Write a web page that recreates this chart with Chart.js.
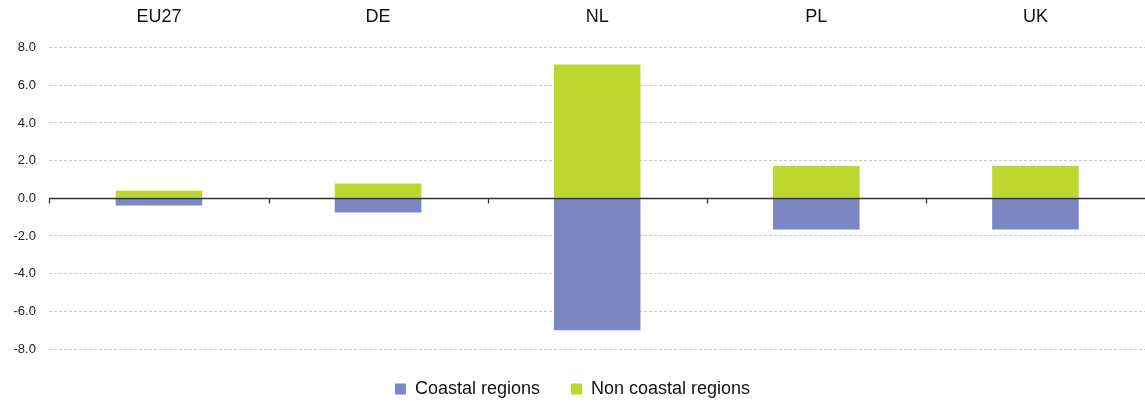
<!DOCTYPE html>
<html>
<head>
<meta charset="utf-8">
<script src="https://cdn.jsdelivr.net/npm/chart.js@4.4.1/dist/chart.umd.min.js"></script>
<style>
  html, body { margin: 0; padding: 0; background: #fff; }
  #wrap { width: 1145px; height: 403px; }
</style>
</head>
<body>
<div id="wrap"><canvas id="chart"></canvas></div>
<script>
const categories = ['EU27', 'DE', 'NL', 'PL', 'UK'];
const coastal = [-0.38, -0.75, -7.0, -1.65, -1.65];
const nonCoastal = [0.4, 0.78, 7.1, 1.72, 1.72];
const yTicks = [-8, -6, -4, -2, 0, 2, 4, 6, 8];

// zero line with small tick marks at category boundaries
const zeroAxis = {
    id: 'zeroAxis',
    afterDatasetsDraw(chart) {
        const { ctx, chartArea, scales } = chart;
        const y0 = Math.round(scales.y.getPixelForValue(0)) + 0.5;
        const step = (chartArea.right - chartArea.left) / categories.length;
        ctx.save();
        ctx.strokeStyle = '#333';
        ctx.lineWidth = 1.3;
        ctx.beginPath();
        ctx.moveTo(chartArea.left, y0);
        ctx.lineTo(chartArea.right, y0);
        for (let i = 0; i < categories.length; i++) {
            const x = Math.round(chartArea.left + i * step) + 0.5;
            ctx.moveTo(x, y0);
            ctx.lineTo(x, y0 + 5);
        }
        ctx.stroke();
        ctx.restore();
    }
};

new Chart(document.getElementById('chart'), {
    type: 'bar',
    data: {
        labels: categories,
        datasets: [
            {
                label: 'Coastal regions',
                data: coastal,
                backgroundColor: '#7b86c2',
                borderWidth: 0,
                categoryPercentage: 1,
                barPercentage: 0.395
            },
            {
                label: 'Non coastal regions',
                data: nonCoastal,
                backgroundColor: '#bed730',
                borderWidth: 0,
                categoryPercentage: 1,
                barPercentage: 0.395
            }
        ]
    },
    options: {
        responsive: true,
        maintainAspectRatio: false,
        animation: false,
        layout: { padding: { top: -6, right: 0, left: 0, bottom: -5 } },
        plugins: {
            legend: {
                position: 'bottom',
                labels: {
                    boxWidth: 11,
                    boxHeight: 11,
                    padding: 31,
                    color: '#111',
                    font: { family: 'Liberation Sans, Arial', size: 18 }
                }
            },
            tooltip: { enabled: false }
        },
        scales: {
            x: {
                position: 'top',
                stacked: true,
                grid: { display: false },
                border: { display: false },
                ticks: {
                    color: '#111',
                    padding: 12,
                    font: { family: 'Liberation Sans, Arial', size: 18 }
                }
            },
            y: {
                stacked: true,
                min: -8,
                max: 8,
                afterBuildTicks: (axis) => {
                    axis.ticks = yTicks.map(v => ({ value: v }));
                },
                grid: {
                    color: '#c8c8c8',
                    drawTicks: false
                },
                border: { display: false, dash: [3, 2] },
                ticks: {
                    color: '#222',
                    padding: 13.5,
                    font: { family: 'Liberation Sans, Arial', size: 13 },
                    callback: (v) => Number(v).toFixed(1)
                }
            }
        }
    },
    plugins: [zeroAxis]
});
</script>
</body>
</html>
